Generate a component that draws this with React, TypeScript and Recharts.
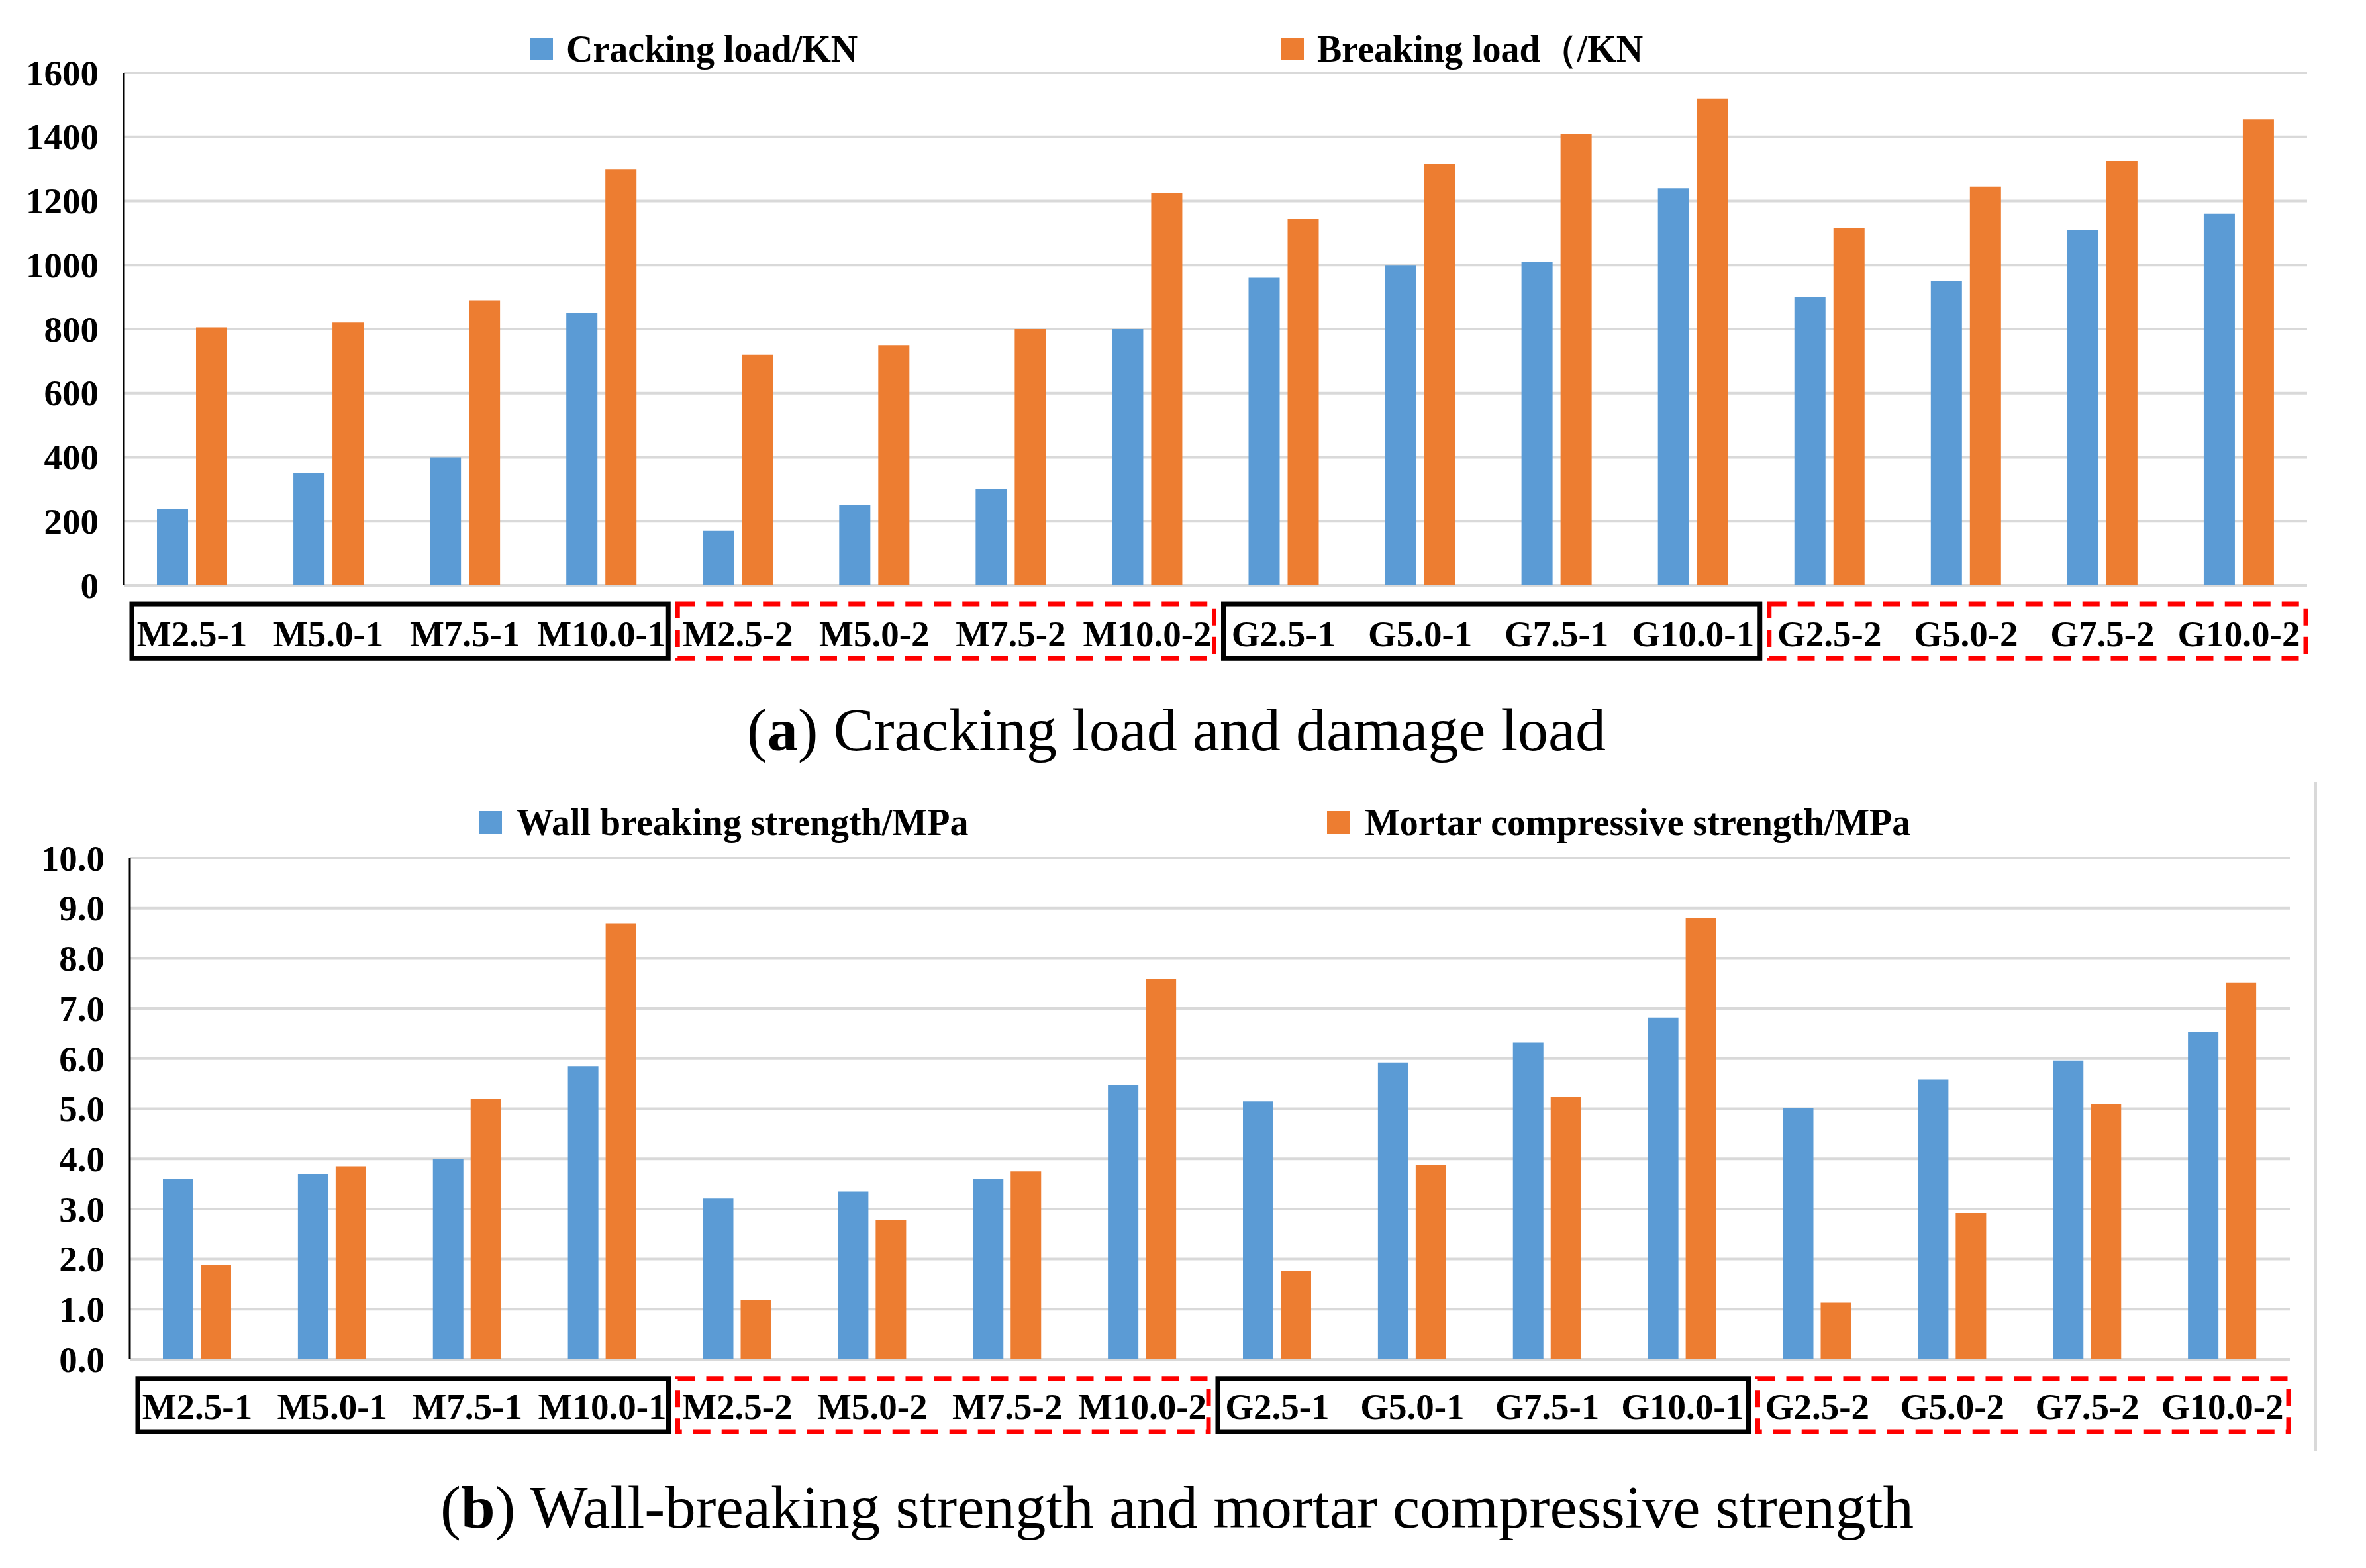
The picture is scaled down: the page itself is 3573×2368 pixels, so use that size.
import React from 'react';
import { BarChart, Bar, XAxis, YAxis, CartesianGrid, ReferenceArea } from 'recharts';

// ---------- data ----------
const categories = [
  'M2.5-1', 'M5.0-1', 'M7.5-1', 'M10.0-1',
  'M2.5-2', 'M5.0-2', 'M7.5-2', 'M10.0-2',
  'G2.5-1', 'G5.0-1', 'G7.5-1', 'G10.0-1',
  'G2.5-2', 'G5.0-2', 'G7.5-2', 'G10.0-2',
];
const crackingLoad = [240, 350, 400, 850, 170, 250, 300, 800, 960, 1000, 1010, 1240, 900, 950, 1110, 1160];
const breakingLoad = [805, 820, 890, 1300, 720, 750, 800, 1225, 1145, 1315, 1410, 1520, 1115, 1245, 1325, 1455];
const wallStrength = [3.6, 3.7, 4.0, 5.85, 3.22, 3.35, 3.6, 5.48, 5.15, 5.92, 6.32, 6.82, 5.02, 5.58, 5.96, 6.54];
const mortarStrength = [1.88, 3.85, 5.19, 8.7, 1.19, 2.78, 3.75, 7.59, 1.76, 3.88, 5.24, 8.8, 1.13, 2.92, 5.1, 7.52];

const loadTicks = [0, 200, 400, 600, 800, 1000, 1200, 1400, 1600];
const strengthTicks = [0, 1, 2, 3, 4, 5, 6, 7, 8, 9, 10];

const loadSeriesNames = ['Cracking load/KN', 'Breaking load\uFF08/KN'];
const strengthSeriesNames = ['Wall breaking strength/MPa', 'Mortar compressive strength/MPa'];

const groups = [
  { from: 'M2.5-1', to: 'M10.0-1', dashed: false },
  { from: 'M2.5-2', to: 'M10.0-2', dashed: true },
  { from: 'G2.5-1', to: 'G10.0-1', dashed: false },
  { from: 'G2.5-2', to: 'G10.0-2', dashed: true },
];

const captionA = ['a', ') Cracking load and damage load'];
const captionB = ['b', ') Wall-breaking strength and mortar compressive strength'];

const loadData = categories.map((name, i) => ({ name, a: crackingLoad[i], b: breakingLoad[i] }));
const strengthData = categories.map((name, i) => ({ name, a: wallStrength[i], b: mortarStrength[i] }));

// ---------- styles ----------
const FONT = '"Liberation Serif", "Times New Roman", serif';
const BLUE = '#5B9BD5';
const ORANGE = '#ED7D31';
const GRID = '#D9D9D9';
const W = 3573;

const YTick = (props: any) => {
  const { x, y, payload, fmt } = props;
  return (
    <text x={x} y={y} dy="0.34em" textAnchor="end" fontFamily={FONT} fontWeight={700} fontSize={55} fill="#000">
      {fmt(payload.value)}
    </text>
  );
};

const XTick = (props: any) => {
  const { x, y, payload, dy } = props;
  return (
    <text x={x} y={y} dy={dy} textAnchor="middle" fontFamily={FONT} fontWeight={700} fontSize={55} fill="#000">
      {payload.value}
    </text>
  );
};

const boxShape = (dashed: boolean) => (p: any) => (
  <rect
    x={p.x + 12}
    y={p.y}
    width={p.width - 14}
    height={p.height}
    fill="none"
    stroke={dashed ? '#FF0000' : '#000000'}
    strokeWidth={7}
    strokeDasharray={dashed ? '26 17' : undefined}
  />
);

const LegendItem = ({ left, top, color, label, textGap }: any) => (
  <div style={{ position: 'absolute', left, top, display: 'flex', alignItems: 'center', height: 60 }}>
    <div style={{ width: 35, height: 34, background: color }} />
    <span
      style={{
        marginLeft: textGap,
        fontFamily: FONT,
        fontWeight: 700,
        fontSize: 56,
        color: '#000',
        whiteSpace: 'nowrap',
        lineHeight: '60px',
      }}
    >
      {label}
    </span>
  </div>
);

export default function App() {
  return (
    <div style={{ position: 'absolute', left: 0, top: 0, width: W, height: 2368, background: '#fff', overflow: 'hidden' }}>
      {/* ---------- chart (a) ---------- */}
      <div style={{ position: 'absolute', left: 0, top: 0 }}>
        <BarChart
          width={W}
          height={1060}
          data={loadData}
          margin={{ top: 110, right: 89, bottom: 56, left: 67 }}
          barSize={47}
          barGap={12}
        >
          <CartesianGrid vertical={false} stroke={GRID} strokeWidth={4} />
          <XAxis
            dataKey="name"
            axisLine={false}
            tickLine={false}
            tickSize={0}
            tickMargin={0}
            height={120}
            interval={0}
            tick={(p: any) => <XTick {...p} dy={92} />}
          />
          <YAxis
            domain={[0, 1600]}
            ticks={loadTicks}
            width={120}
            axisLine={{ stroke: '#000', strokeWidth: 3 }}
            tickLine={false}
            tickSize={0}
            tickMargin={38}
            interval={0}
            tick={(p: any) => <YTick {...p} fmt={(v: number) => String(v)} />}
          />
          <Bar dataKey="a" name={loadSeriesNames[0]} fill={BLUE} isAnimationActive={false} />
          <Bar dataKey="b" name={loadSeriesNames[1]} fill={ORANGE} isAnimationActive={false} />
          {groups.map((g, i) => (
            <ReferenceArea
              key={i}
              x1={g.from}
              x2={g.to}
              y1={-58}
              y2={-228}
              ifOverflow="visible"
              shape={boxShape(g.dashed)}
            />
          ))}
        </BarChart>
      </div>
      <LegendItem left={800} top={44} color={BLUE} label={loadSeriesNames[0]} textGap={20} />
      <LegendItem left={1934} top={44} color={ORANGE} label={loadSeriesNames[1]} textGap={20} />

      {/* ---------- chart (b) ---------- */}
      <div style={{ position: 'absolute', left: 0, top: 1160 }}>
        <BarChart
          width={W}
          height={1060}
          data={strengthData}
          margin={{ top: 136, right: 115, bottom: 47, left: 76 }}
          barSize={46}
          barGap={11}
        >
          <CartesianGrid vertical={false} stroke={GRID} strokeWidth={4} />
          <XAxis
            dataKey="name"
            axisLine={false}
            tickLine={false}
            tickSize={0}
            tickMargin={0}
            height={120}
            interval={0}
            tick={(p: any) => <XTick {...p} dy={90} />}
          />
          <YAxis
            domain={[0, 10]}
            ticks={strengthTicks}
            width={120}
            axisLine={{ stroke: '#000', strokeWidth: 3 }}
            tickLine={false}
            tickSize={0}
            tickMargin={38}
            interval={0}
            tick={(p: any) => <YTick {...p} fmt={(v: number) => v.toFixed(1)} />}
          />
          <Bar dataKey="a" name={strengthSeriesNames[0]} fill={BLUE} isAnimationActive={false} />
          <Bar dataKey="b" name={strengthSeriesNames[1]} fill={ORANGE} isAnimationActive={false} />
          {groups.map((g, i) => (
            <ReferenceArea
              key={i}
              x1={g.from}
              x2={g.to}
              y1={-0.38}
              y2={-1.44}
              ifOverflow="visible"
              shape={boxShape(g.dashed)}
            />
          ))}
        </BarChart>
      </div>
      <LegendItem left={723} top={1212} color={BLUE} label={strengthSeriesNames[0]} textGap={22} />
      <LegendItem left={2004} top={1212} color={ORANGE} label={strengthSeriesNames[1]} textGap={22} />

      {/* right border of lower panel */}
      <div style={{ position: 'absolute', left: 3495, top: 1181, width: 4, height: 1010, background: GRID }} />

      {/* ---------- captions ---------- */}
      <svg width={W} height={2368} style={{ position: 'absolute', left: 0, top: 0, pointerEvents: 'none' }}>
        <text x={1128} y={1133} fontFamily={FONT} fontSize={90} fill="#000" textLength={1297} lengthAdjust="spacingAndGlyphs">
          (<tspan fontWeight={700}>{captionA[0]}</tspan>{captionA[1]}
        </text>
        <text x={665} y={2307} fontFamily={FONT} fontSize={90} fill="#000" textLength={2225} lengthAdjust="spacingAndGlyphs">
          (<tspan fontWeight={700}>{captionB[0]}</tspan>{captionB[1]}
        </text>
      </svg>
    </div>
  );
}
